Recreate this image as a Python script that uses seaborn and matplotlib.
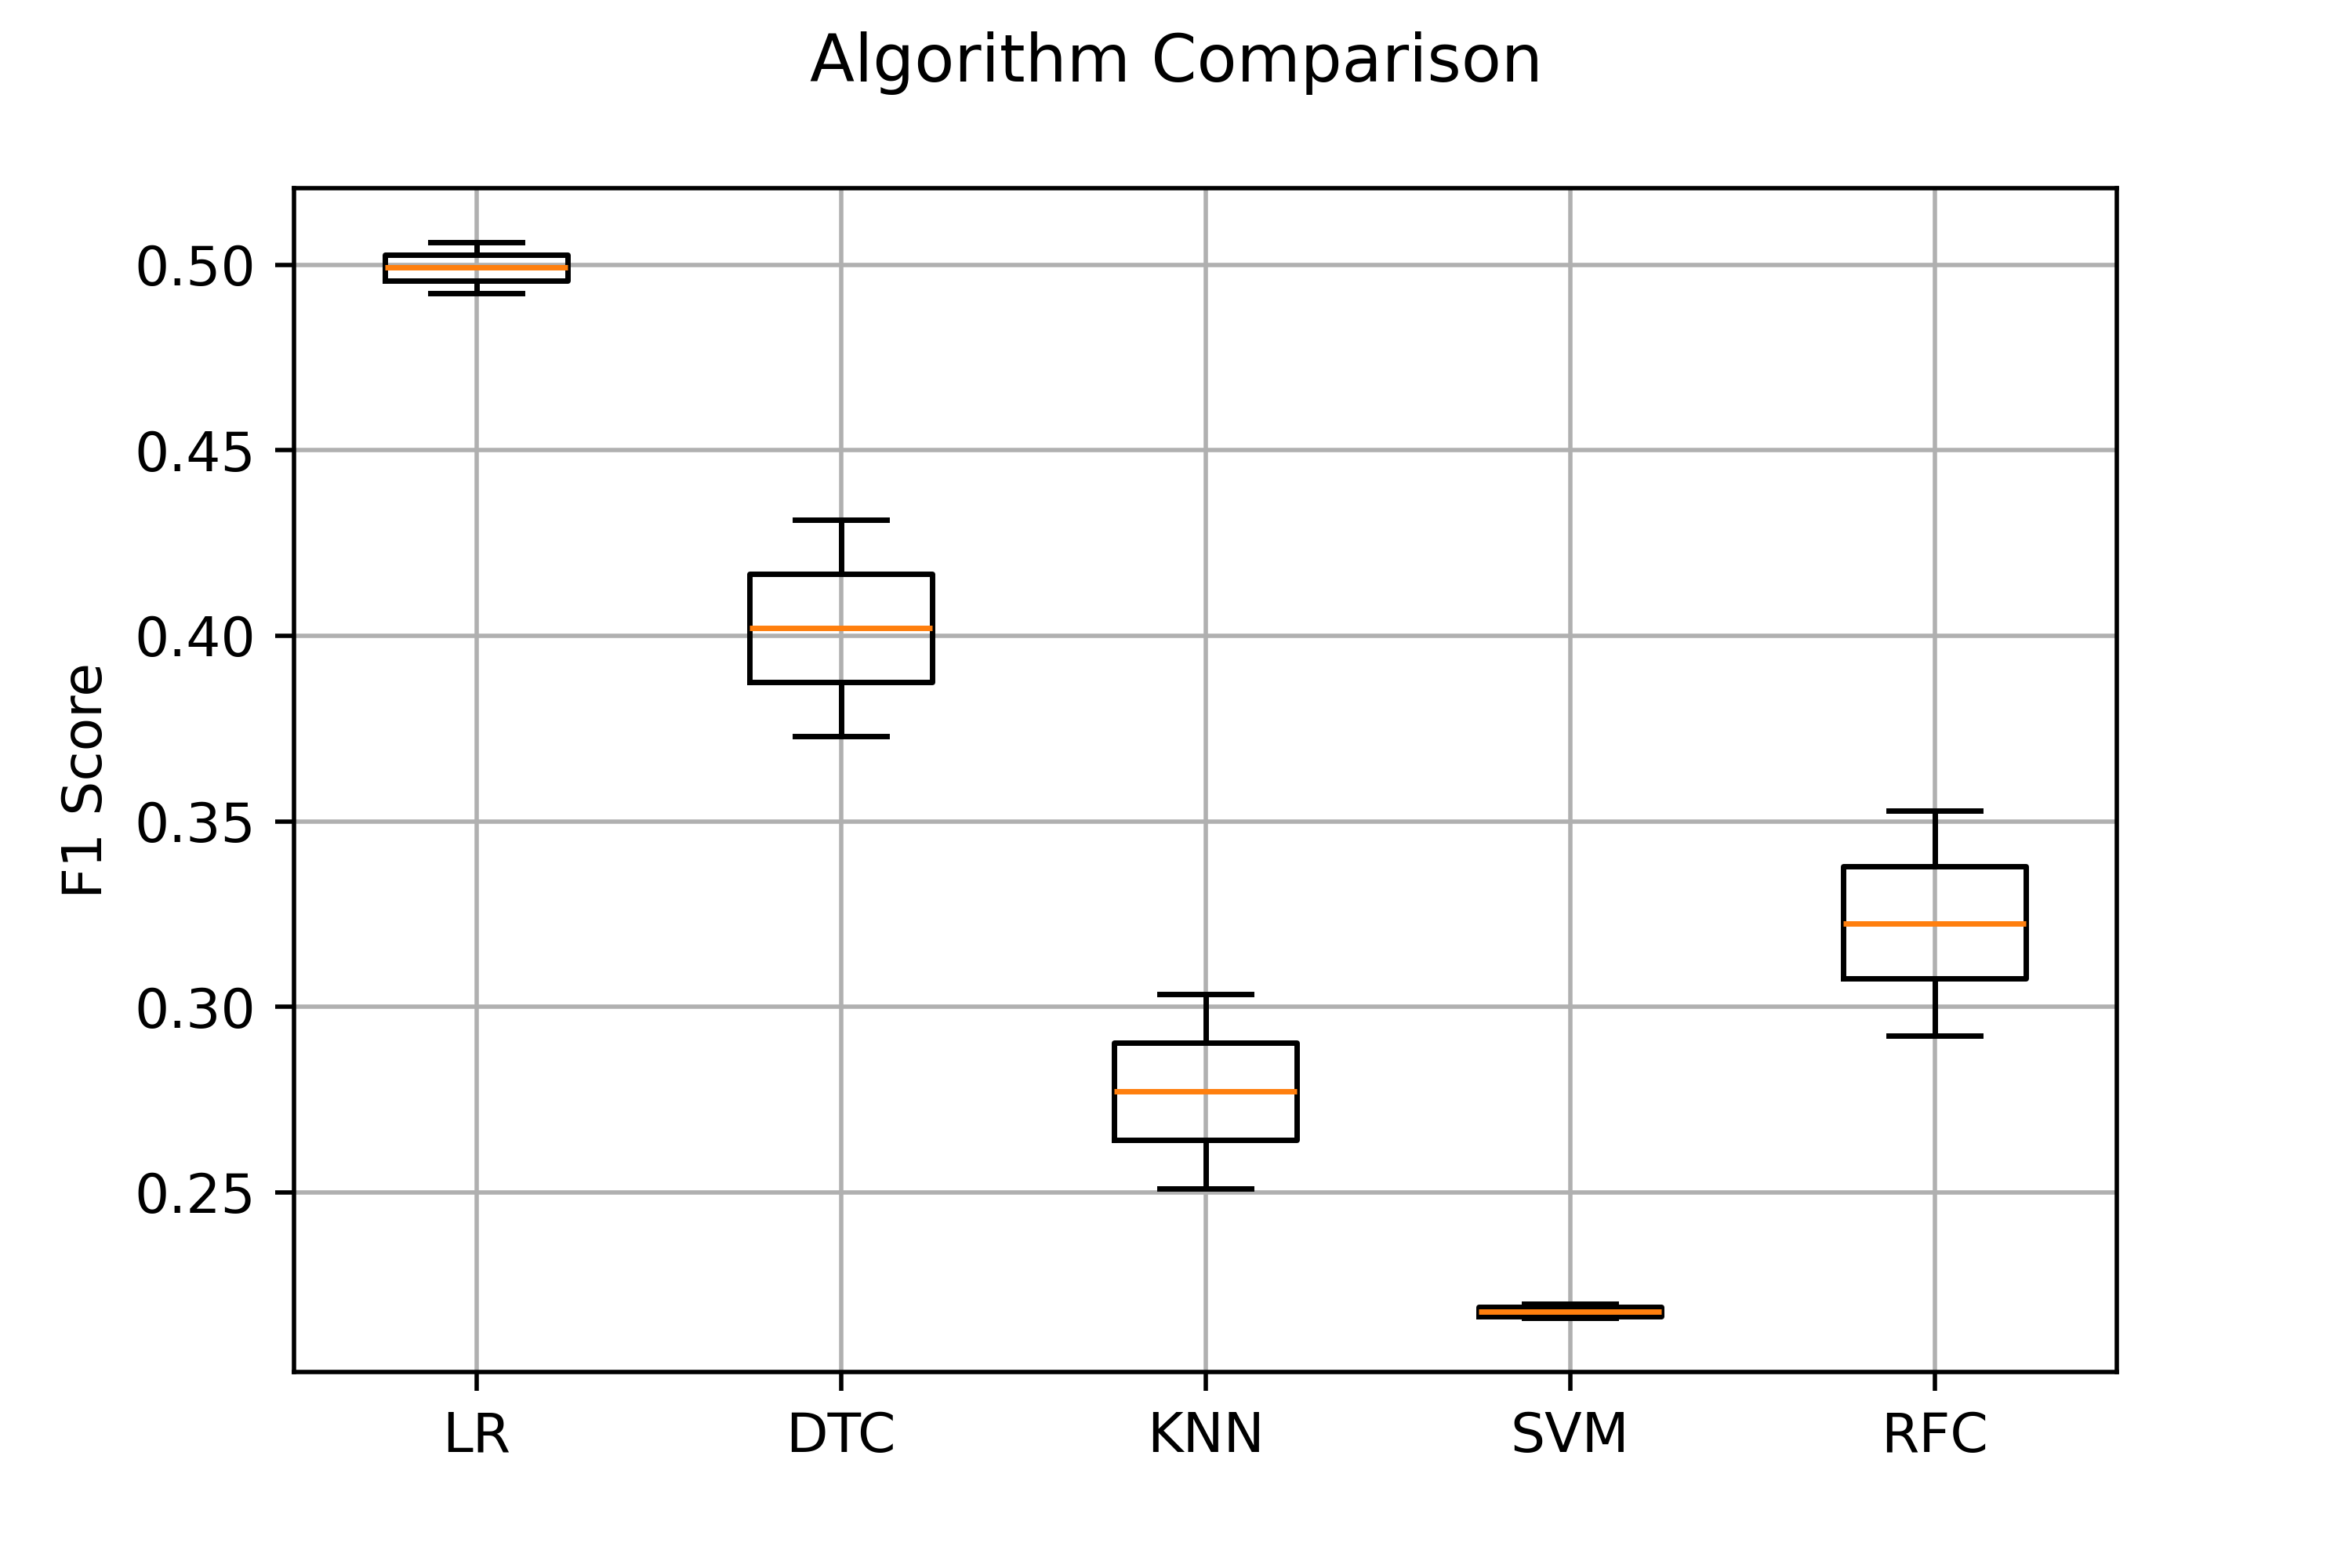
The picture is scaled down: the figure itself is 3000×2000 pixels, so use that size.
import pandas as pd
import numpy as np
import matplotlib
matplotlib.use('Agg')
import matplotlib.pyplot as plt
import seaborn as sns

# five-number summaries: min, q1, median, q3, max
models = ['LR', 'DTC', 'KNN', 'SVM', 'RFC']
lr = [0.4923, 0.4957, 0.4992, 0.5027, 0.5061]
dtc = [0.3730, 0.3876, 0.4020, 0.4166, 0.4312]
knn = [0.2510, 0.2642, 0.2773, 0.2903, 0.3034]
svm = [0.2161, 0.2167, 0.2179, 0.2191, 0.2200]
rfc = [0.2923, 0.3076, 0.3225, 0.3378, 0.3529]

scores = [lr, dtc, knn, svm, rfc]
df = pd.DataFrame({
    'model': np.repeat(models, [len(s) for s in scores]),
    'f1': np.concatenate(scores),
})

fig = plt.figure(figsize=(6, 4), dpi=500)
fig.suptitle('Algorithm Comparison')
ax = fig.add_subplot(111)
fig.subplots_adjust(bottom=0.125)
sns.boxplot(data=df, x='model', y='f1', order=models, ax=ax,
            fill=False, color='black', width=0.5, linewidth=1, whis=1.5,
            medianprops={'color': '#ff7f0e', 'linewidth': 1},
            showfliers=False)
ax.grid(True)
ax.set_xlabel('')
ax.set_ylabel('F1 Score')
plt.savefig('out.png', dpi=500)
